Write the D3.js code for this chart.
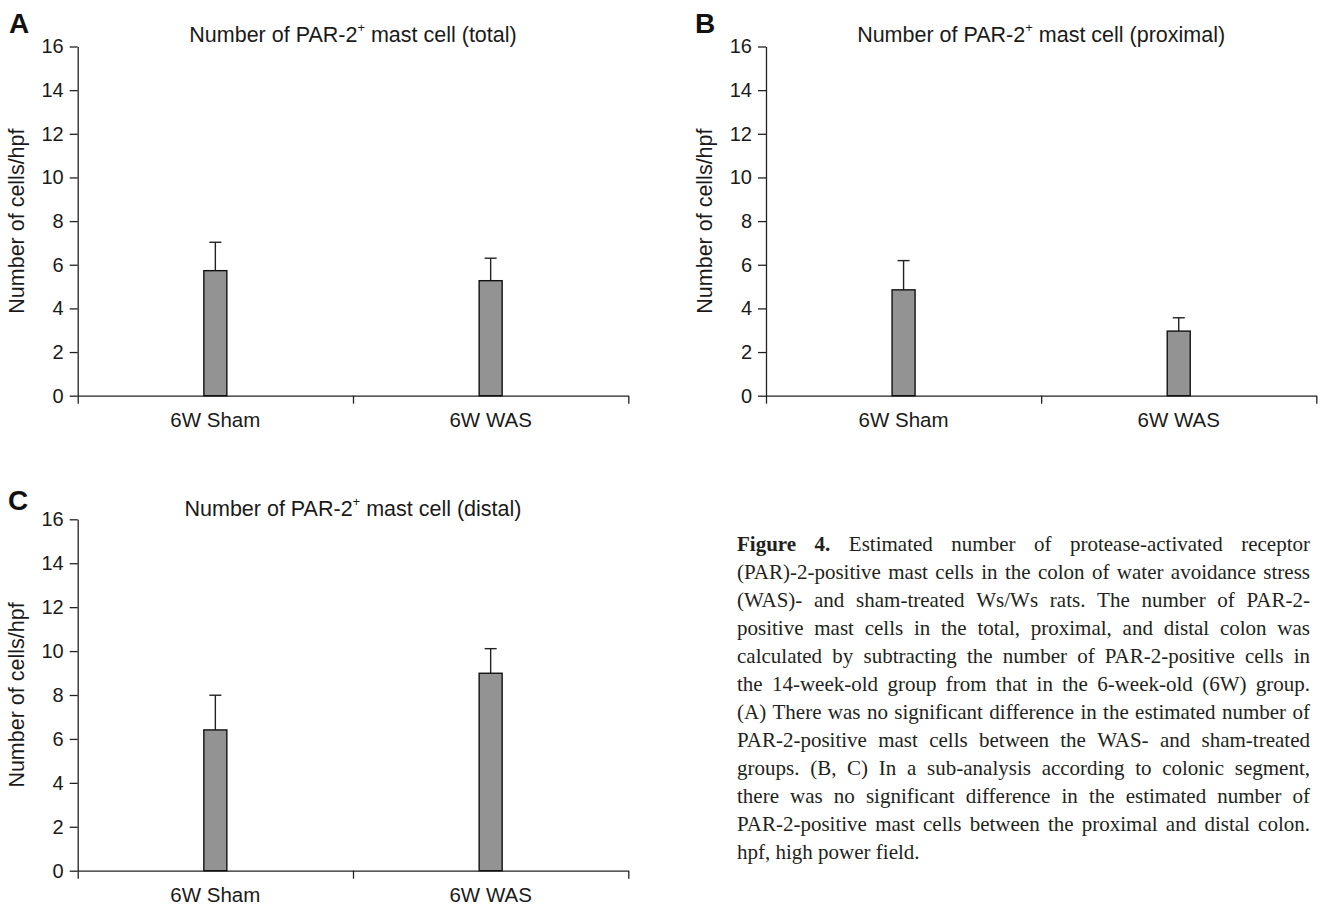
<!DOCTYPE html>
<html>
<head>
<meta charset="utf-8">
<script src="https://cdn.jsdelivr.net/npm/d3@7"></script>
<style>
  html, body { margin: 0; padding: 0; background: #ffffff; }
  svg { display: block; }
</style>
</head>
<body>
<script>
// ---------------- DATA ----------------
const categories = ["6W Sham", "6W WAS"];
const yTicks = [0, 2, 4, 6, 8, 10, 12, 14, 16];

const totalMean = [5.73, 5.27];
const totalSD = [1.30, 1.03];

const proximalMean = [4.85, 2.96];
const proximalSD = [1.34, 0.61];

const distalMean = [6.41, 8.99];
const distalSD = [1.58, 1.12];

const panelLetters = ["A", "B", "C"];
const panelSegments = ["total", "proximal", "distal"];
const yAxisTitle = "Number of cells/hpf";

const captionLines = [
  "Figure 4. Estimated number of protease-activated receptor",
  "(PAR)-2-positive mast cells in the colon of water avoidance stress",
  "(WAS)- and sham-treated Ws/Ws rats. The number of PAR-2-",
  "positive mast cells in the total, proximal, and distal colon was",
  "calculated by subtracting the number of PAR-2-positive cells in",
  "the 14-week-old group from that in the 6-week-old (6W) group.",
  "(A) There was no significant difference in the estimated number of",
  "PAR-2-positive mast cells between the WAS- and sham-treated",
  "groups. (B, C) In a sub-analysis according to colonic segment,",
  "there was no significant difference in the estimated number of",
  "PAR-2-positive mast cells between the proximal and distal colon.",
  "hpf, high power field."
];
const captionBoldWords = 2; // "Figure 4."

// ---------------- DRAWING ----------------
const W = 1320, H = 907;
const svg = d3.select("body").append("svg").attr("width", W).attr("height", H);

const sansFont = "'Liberation Sans', Arial, Helvetica, sans-serif";
const serifFont = "'Liberation Serif', 'Times New Roman', serif";
const ink = "#1a1a1a";

const panels = [
  { letter: panelLetters[0], seg: panelSegments[0], means: totalMean, sds: totalSD,
    left: 77.7, right: 628.3, top: 46.5, bottom: 395.7, letterX: 9, letterY: 33.3, titleY: 41.7 },
  { letter: panelLetters[1], seg: panelSegments[1], means: proximalMean, sds: proximalSD,
    left: 766, right: 1316.3, top: 46.5, bottom: 395.7, letterX: 695, letterY: 33.3, titleY: 41.7 },
  { letter: panelLetters[2], seg: panelSegments[2], means: distalMean, sds: distalSD,
    left: 77.7, right: 628.3, top: 519.3, bottom: 870.7, letterX: 8, letterY: 509.5, titleY: 516 }
];

function drawPanel(p) {
  const g = svg.append("g");
  const y = d3.scaleLinear().domain([0, 16]).range([p.bottom, p.top]);
  const x = d3.scaleBand().domain(categories).range([p.left, p.right]).padding(0);
  const xEdge = d3.scaleLinear().domain([0, categories.length]).range([p.left, p.right]);
  const barW = 23;
  const capHalf = 6;

  // y axis
  const ya = g.append("g").attr("transform", `translate(${p.left},0)`)
    .call(d3.axisLeft(y).tickValues(yTicks).tickSize(8).tickSizeOuter(0).tickPadding(6));
  // x axis (ticks at category boundaries)
  const xa = g.append("g").attr("transform", `translate(0,${p.bottom})`)
    .call(d3.axisBottom(xEdge).tickValues(d3.range(categories.length + 1)).tickSize(8).tickSizeOuter(0).tickFormat(""));

  [ya, xa].forEach(a => {
    a.selectAll("path, line").attr("stroke", "#222").attr("stroke-width", 1.3);
    a.selectAll("text").style("font-family", sansFont).style("font-size", "20px").attr("fill", ink);
  });

  // error bars (upper only)
  const eb = g.append("g");
  eb.selectAll("line.stem").data(categories).join("line")
    .attr("x1", c => x(c) + x.bandwidth() / 2)
    .attr("x2", c => x(c) + x.bandwidth() / 2)
    .attr("y1", (c, i) => y(p.means[i]))
    .attr("y2", (c, i) => y(p.means[i] + p.sds[i]))
    .attr("stroke", "#222").attr("stroke-width", 1.4);
  eb.selectAll("line.cap").data(categories).join("line")
    .attr("x1", c => x(c) + x.bandwidth() / 2 - capHalf)
    .attr("x2", c => x(c) + x.bandwidth() / 2 + capHalf)
    .attr("y1", (c, i) => y(p.means[i] + p.sds[i]))
    .attr("y2", (c, i) => y(p.means[i] + p.sds[i]))
    .attr("stroke", "#222").attr("stroke-width", 1.4);

  // bars
  g.append("g").selectAll("rect").data(categories).join("rect")
    .attr("x", c => x(c) + x.bandwidth() / 2 - barW / 2)
    .attr("y", (c, i) => y(p.means[i]))
    .attr("width", barW)
    .attr("height", (c, i) => y(0) - y(p.means[i]))
    .attr("fill", "#939393")
    .attr("stroke", "#111")
    .attr("stroke-width", 1.4);

  // category labels
  g.append("g").selectAll("text").data(categories).join("text")
    .attr("x", c => x(c) + x.bandwidth() / 2)
    .attr("y", p.bottom + 31)
    .attr("text-anchor", "middle")
    .style("font-family", sansFont).style("font-size", "20.5px").attr("fill", ink)
    .text(c => c);

  // title
  const t = g.append("text")
    .attr("x", (p.left + p.right) / 2)
    .attr("y", p.titleY)
    .attr("text-anchor", "middle")
    .style("font-family", sansFont).style("font-size", "21.5px").attr("fill", ink);
  t.append("tspan").text("Number of PAR-2");
  t.append("tspan").attr("dy", -10).style("font-size", "13px").text("+");
  t.append("tspan").attr("dy", 10).text(` mast cell (${p.seg})`);

  // y axis title
  const cy = (p.top + p.bottom) / 2;
  const tx = p.left - 54;
  g.append("text")
    .attr("transform", `translate(${tx},${cy}) rotate(-90)`)
    .attr("text-anchor", "middle")
    .style("font-family", sansFont).style("font-size", "21.5px").attr("fill", ink)
    .text(yAxisTitle);

  // panel letter
  g.append("text")
    .attr("x", p.letterX).attr("y", p.letterY)
    .style("font-family", sansFont).style("font-size", "28px").style("font-weight", "bold")
    .attr("fill", "#111")
    .text(p.letter);
}

panels.forEach(drawPanel);

// ---------------- CAPTION (justified) ----------------
const capLeft = 737, capRight = 1310, capBase = 551, capLH = 28, capSize = 21;
const cap = svg.append("g")
  .style("font-family", serifFont).style("font-size", capSize + "px").attr("fill", "#231f20");

captionLines.forEach((line, li) => {
  const words = line.split(" ");
  const yb = capBase + li * capLH;
  const nodes = words.map((w, wi) => {
    const el = cap.append("text").attr("x", 0).attr("y", yb).text(w);
    if (li === 0 && wi < captionBoldWords) el.style("font-weight", "bold");
    return el;
  });
  const widths = nodes.map(n => n.node().getComputedTextLength());
  const total = d3.sum(widths);
  const last = li === captionLines.length - 1;
  const gap = last || words.length < 2 ? capSize * 0.25 : (capRight - capLeft - total) / (words.length - 1);
  let cx = capLeft;
  nodes.forEach((n, i) => { n.attr("x", cx); cx += widths[i] + gap; });
});
</script>
</body>
</html>
